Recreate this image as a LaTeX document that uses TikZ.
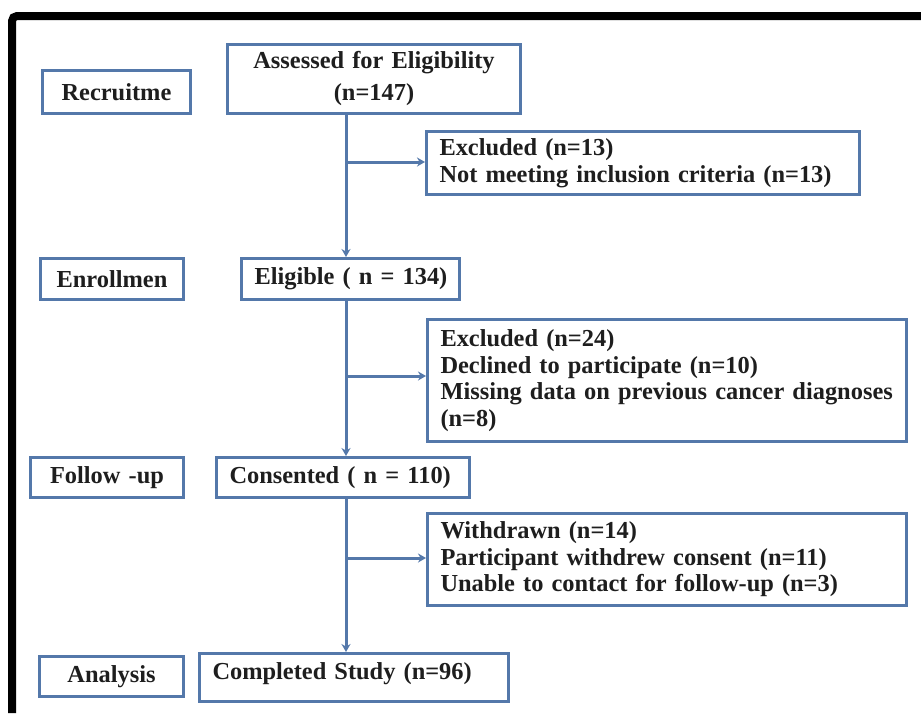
\documentclass[tikz,border=0pt]{standalone}
\usepackage{fontspec}
\setmainfont{Liberation Serif}
\usetikzlibrary{arrows.meta}
\definecolor{boxblue}{RGB}{84,120,170}
\definecolor{txt}{RGB}{30,30,30}
\begin{document}
\begin{tikzpicture}[x=1pt,y=-1pt,
  every node/.style={font=\bfseries\fontsize{24.4}{26.5}\selectfont, text=txt},
  box/.style={draw=boxblue, line width=3pt, anchor=north west, inner xsep=13pt, inner ysep=2pt},
  lbox/.style={box, align=left},
  cbox/.style={box, align=center},
  arr/.style={draw=boxblue, line width=3pt, -{Stealth[length=8pt,width=9pt]}}]
\useasboundingbox (0,0) rectangle (921,713);
\fill[white] (0,0) rectangle (921,713);
% frame
\draw[line width=8pt, black, rounded corners=5pt] (12,713) -- (12,16) -- (921,16);
% stage labels
\node[cbox, text width=122pt, minimum height=43pt] (rec) at (41,69) {Recruitme};
\node[cbox, text width=117pt, minimum height=41pt] (enr) at (39,257) {Enrollmen};
\node[cbox, text width=127pt, minimum height=40pt] (fol) at (29,456) {Follow -up};
\node[cbox, text width=118pt, minimum height=40pt] (ana) at (38,655) {Analysis};
% main flow
\node[cbox, text width=267pt, minimum height=69pt, font=\bfseries\fontsize{24.4}{32}\selectfont] (ass) at (226,43) {Assessed for Eligibility\\(n=147)};
\node[lbox, text width=192pt, minimum height=41pt] (eli) at (240,257) {\mbox{Eligible ( n = 134)}};
\node[lbox, text width=227pt, minimum height=40pt] (con) at (215,456) {\mbox{Consented ( n = 110)}};
\node[lbox, text width=283pt, minimum height=48pt, yshift=-0pt] (com) at (198,652) {\mbox{Completed Study (n=96)}\rule[-12pt]{0pt}{0pt}};
% exclusion boxes
\node[lbox, text width=407pt, minimum height=63pt] (ex1) at (425,130) {\mbox{Excluded (n=13)}\\\mbox{Not meeting inclusion criteria (n=13)}};
\node[lbox, text width=453pt, minimum height=122pt] (ex2) at (426,318) {\mbox{Excluded (n=24)}\\\mbox{Declined to participate (n=10)}\\\mbox{Missing data on previous cancer diagnoses}\\\mbox{(n=8)}};
\node[lbox, text width=453pt, minimum height=92pt] (wd) at (426,512) {\mbox{Withdrawn (n=14)}\\\mbox{Participant withdrew consent (n=11)}\\\mbox{Unable to contact for follow-up (n=3)}};
% spine coordinates
\coordinate (sx) at (346,0);
\coordinate (b1) at (346,162);
\coordinate (b2) at (346,376);
\coordinate (b3) at (346,558);
% connectors
\draw[arr] (ass.south -| sx) -- (eli.north -| sx);
\draw[arr] (eli.south -| sx) -- (con.north -| sx);
\draw[arr] (con.south -| sx) -- (com.north -| sx);
\draw[arr] (b1) -- (ex1.west |- b1);
\draw[arr] (b2) -- (ex2.west |- b2);
\draw[arr] (b3) -- (wd.west |- b3);
\end{tikzpicture}
\end{document}
